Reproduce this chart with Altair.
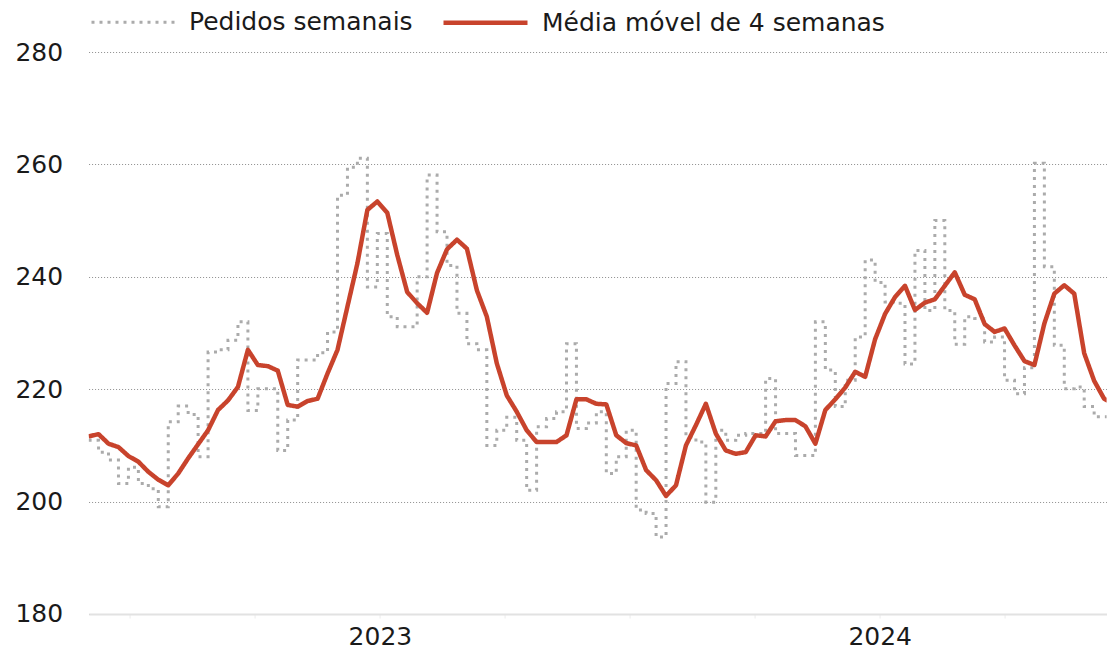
import altair as alt
import pandas as pd

# ---- data (values in thousands) ----
week_w = list(range(105))
weekly = [210.9, 210.9, 208.8, 207.4, 203.2, 206.1, 203.2, 202.3, 199.1, 214.2,
          217.0, 215.5, 208.0, 226.6, 227.0, 228.7, 232.0, 216.2, 220.1, 220.1,
          209.1, 214.5, 225.2, 225.2, 226.5, 230.2, 254.5, 259.5, 261.1, 238.2,
          247.7, 232.9, 231.1, 231.1, 240.0, 258.1, 248.0, 242.0, 233.5, 228.1,
          227.0, 210.0, 212.7, 215.0, 210.9, 202.0, 213.3, 214.8, 216.0, 228.1,
          213.0, 214.0, 216.0, 205.0, 208.0, 212.7, 198.5, 197.9, 193.7, 221.0,
          224.9, 211.5, 210.6, 199.9, 212.7, 210.9, 211.8, 212.1, 212.1, 221.9,
          212.1, 212.1, 208.2, 208.2, 232.0, 223.4, 216.9, 221.6, 229.3, 243.0,
          239.0, 235.5, 235.3, 224.5, 244.7, 234.0, 250.0, 234.0, 228.0, 232.9,
          232.6, 228.4, 229.3, 221.6, 219.2, 223.8, 260.2, 241.8, 227.8, 220.1,
          220.4, 216.9, 215.1, 215.1, 224.0]

week_ma = list(range(104))
moving_avg = [211.6, 212.0, 210.3, 209.7, 208.1, 207.1, 205.3, 203.9, 202.9, 205.0,
              207.7, 210.2, 212.7, 216.3, 218.0, 220.4, 227.0, 224.3, 224.1, 223.3,
              217.2, 216.9, 217.9, 218.3, 222.8, 227.0, 234.7, 242.4, 251.9, 253.4,
              251.4, 243.9, 237.3, 235.3, 233.6, 240.7, 244.9, 246.6, 245.0, 237.6,
              232.9, 224.6, 218.9, 216.0, 212.7, 210.6, 210.6, 210.6, 211.8, 218.2,
              218.2, 217.4, 217.3, 211.8, 210.4, 210.0, 205.6, 203.8, 201.0, 202.9,
              210.0, 213.6, 217.4, 212.1, 209.1, 208.5, 208.8, 211.8, 211.6, 214.3,
              214.5, 214.5, 213.4, 210.3, 216.3, 218.2, 220.3, 223.1, 222.2, 228.9,
              233.4, 236.4, 238.4, 234.1, 235.4, 236.0, 238.4, 240.8, 236.8, 236.0,
              231.6, 230.2, 230.8, 227.8, 225.0, 224.3, 231.7, 237.0, 238.5, 237.0,
              226.4, 221.5, 218.3, 217.4]

series_names = ["Pedidos semanais", "Média móvel de 4 semanas"]
series_colors = ["#ababab", "#c8432c"]
series_dash = [[3, 5], [1, 0]]
series_width = [3, 4.5]

y_ticks = [180, 200, 220, 240, 260, 280]
x_tick_pos = [4.16, 16.71, 29.26, 41.81, 54.36, 66.91, 79.46, 92.01]
year_pos = [29.26, 79.46]
year_labels = ["2023", "2024"]

df = pd.concat([
    pd.DataFrame({"semana": week_w, "valor": weekly, "serie": series_names[0]}),
    pd.DataFrame({"semana": week_ma, "valor": moving_avg, "serie": series_names[1]}),
])

label_expr = " : ".join(
    [f"abs(datum.value - {p}) < 0.01 ? '{l}'" for p, l in zip(year_pos, year_labels)]
) + " : ''"

FONT = "DejaVu Sans"
FS = 25

x_enc = alt.X("semana:Q",
              scale=alt.Scale(domain=[0, 102.25], nice=False, zero=False),
              axis=alt.Axis(values=x_tick_pos, labelExpr=label_expr, title=None,
                            grid=False, domainColor="#e2e2e2", domainWidth=2,
                            tickColor="#ececec", tickSize=4, tickWidth=1,
                            labelFontSize=FS, labelFont=FONT, labelColor="#1a1a1a",
                            labelPadding=7, labelOverlap=False, labelFlush=False))
y_enc = alt.Y("valor:Q",
              scale=alt.Scale(domain=[180, 280], nice=False, zero=False),
              axis=alt.Axis(values=y_ticks, title=None, domain=False, ticks=False,
                            grid=True, gridColor="#8c8c8c", gridDash=[1, 2], gridWidth=1,
                            labelFontSize=FS, labelFont=FONT, labelColor="#1a1a1a",
                            labelPadding=26))

legend = alt.Legend(title=None, orient="none", legendX=1.4, legendY=-74,
                    direction="horizontal", symbolType="stroke", symbolSize=84 * 84,
                    labelFontSize=FS, labelFont=FONT, labelColor="#1a1a1a",
                    labelLimit=800, labelOffset=12, columnPadding=21)

color_enc = alt.Color("serie:N", scale=alt.Scale(domain=series_names, range=series_colors),
                      legend=legend, sort=series_names)
dash_enc = alt.StrokeDash("serie:N", scale=alt.Scale(domain=series_names, range=series_dash),
                          legend=legend, sort=series_names)
width_enc = alt.StrokeWidth("serie:N", scale=alt.Scale(domain=series_names, range=series_width),
                            legend=legend, sort=series_names)

base = alt.Chart(df)

weekly_line = base.transform_filter(alt.datum.serie == series_names[0]).mark_line(
    interpolate="step-before", clip=True, strokeCap="butt"
).encode(x=x_enc, y=y_enc, color=color_enc, strokeDash=dash_enc, strokeWidth=width_enc)

ma_line = base.transform_filter(alt.datum.serie == series_names[1]).mark_line(
    interpolate="linear", clip=True, strokeJoin="round"
).encode(x=x_enc, y=y_enc, color=color_enc, strokeDash=dash_enc, strokeWidth=width_enc)

chart = alt.layer(weekly_line, ma_line).properties(
    width=1018, height=562,
    padding={"left": 80.6, "top": 44, "right": 0, "bottom": 42},
    autosize=alt.AutoSizeParams(type="none"),
    background="white",
).configure_view(stroke=None)

chart.save("out.html", embed_options={"renderer": "svg", "actions": False})
